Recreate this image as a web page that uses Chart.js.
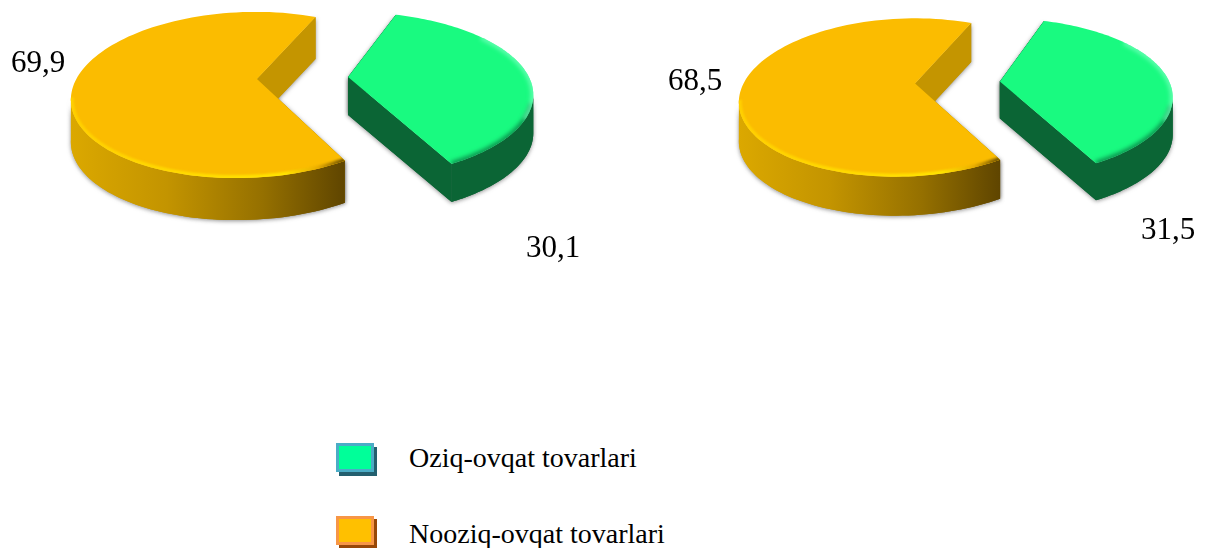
<!DOCTYPE html>
<html>
<head>
<meta charset="utf-8">
<script src="https://cdn.jsdelivr.net/npm/chart.js@4"></script>
<style>
  html, body { margin: 0; padding: 0; background: #fff; overflow: hidden; }
  body { width: 1207px; height: 548px; position: relative; font-family: "Liberation Serif", serif; color: #000; }
  canvas { position: absolute; top: 0; }
  #pieLeft { left: 0; }
  #pieRight { left: 704px; }
  .val { position: absolute; font-size: 31px; line-height: 34px; white-space: nowrap; }
  .swatch { position: absolute; left: 336px; width: 32px; height: 23px; border: 3px solid; }
  .name { position: absolute; left: 409px; font-size: 28px; line-height: 28px; white-space: nowrap; }
</style>
</head>
<body>
<canvas id="pieLeft" width="604" height="270"></canvas>
<canvas id="pieRight" width="503" height="270"></canvas>
<span class="val" id="lblLeft0" style="left:526px;top:230px"></span>
<span class="val" id="lblLeft1" style="left:11px;top:45px"></span>
<span class="val" id="lblRight0" style="left:1141px;top:212px"></span>
<span class="val" id="lblRight1" style="left:668px;top:63px"></span>
<div class="swatch" style="top:443px;background:#00FF99;border-color:#4BACC6;box-shadow:3px 4px 0 #235F6E"></div>
<div class="name" id="name0" style="top:444px"></div>
<div class="swatch" style="top:516px;background:#FFC000;border-color:#F79646;box-shadow:3px 3px 0 #984807"></div>
<div class="name" id="name1" style="top:520px"></div>
<script>
var categories = ["Oziq-ovqat tovarlari", "Nooziq-ovqat tovarlari"];
var valuesLeft = [30.1, 69.9];
var valuesRight = [31.5, 68.5];
var topColors = ["#19FA80", "#FBBC00"];

function fmt(v) { return v.toFixed(1).replace(".", ","); }

document.getElementById("lblLeft0").textContent = fmt(valuesLeft[0]);
document.getElementById("lblLeft1").textContent = fmt(valuesLeft[1]);
document.getElementById("lblRight0").textContent = fmt(valuesRight[0]);
document.getElementById("lblRight1").textContent = fmt(valuesRight[1]);
document.getElementById("name0").textContent = categories[0];
document.getElementById("name1").textContent = categories[1];

var DEG = Math.PI / 180;

// 3D look: the angles and centre come from the pie's arc elements
function stroked(ctx, pts, style, width, blur) {
  if (pts.length < 2) return;
  ctx.save();
  ctx.filter = "blur(" + blur + "px)";
  ctx.strokeStyle = style;
  ctx.lineWidth = width;
  ctx.beginPath();
  pts.forEach(function (p, i) { i ? ctx.lineTo(p[0], p[1]) : ctx.moveTo(p[0], p[1]); });
  ctx.stroke();
  ctx.restore();
}

function drawSlice(ctx, arc, index, v, firstMid) {
  var s = arc.startAngle, e = arc.endAngle, mid = (s + e) / 2;
  var rx = arc.outerRadius * v.sx[index], ry = arc.outerRadius * v.sy;
  var cx = arc.x + v.explode * Math.cos(mid) + v.nudgeX[index], cy = arc.y;
  var tip = [cx + v.tipX[index], cy + v.tipY[index]];
  var rim = [], n = 120;
  for (var i = 0; i <= n; i++) {
    var a = s + (e - s) * i / n;
    var phi = a + v.warp[index] * Math.sin(a - firstMid) + v.spin[index];
    var sn = Math.sin(phi);
    rim.push([cx + rx * Math.cos(phi) - v.lean[index] * sn, cy + ry * sn, sn]);
  }
  var d = v.depth[index];
  var first = rim[0], last = rim[n];
  var low = rim.filter(function (p) { return p[2] >= 0; });
  var xa = Math.min(low[0][0], low[low.length - 1][0]);
  var xb = Math.max(low[0][0], low[low.length - 1][0]);
  var grad = ctx.createLinearGradient(xa, 0, xb, 0);
  v.wall[index].forEach(function (st) { grad.addColorStop(st[0], st[1]); });

  function walls() {
    // flat walls along both cuts, the top face hides the one that faces away
    [first, last].forEach(function (p) {
      ctx.fillStyle = v.cutColor[index];
      ctx.beginPath();
      ctx.moveTo(p[0], p[1]);
      ctx.lineTo(tip[0], tip[1]);
      ctx.lineTo(tip[0], tip[1] + d);
      ctx.lineTo(p[0], p[1] + d);
      ctx.closePath();
      ctx.fill();
    });
    // outer wall
    ctx.fillStyle = grad;
    ctx.beginPath();
    low.forEach(function (p, i) { i ? ctx.lineTo(p[0], p[1]) : ctx.moveTo(p[0], p[1]); });
    for (var j = low.length - 1; j >= 0; j--) ctx.lineTo(low[j][0], low[j][1] + d);
    ctx.closePath();
    ctx.fill();
  }

  ctx.save();
  ctx.shadowColor = "rgba(50,50,50,0.55)";
  ctx.shadowBlur = 4;
  ctx.shadowOffsetY = 1;
  walls();
  ctx.restore();
  walls();

  // top face
  ctx.save();
  ctx.beginPath();
  ctx.moveTo(tip[0], tip[1]);
  rim.forEach(function (p) { ctx.lineTo(p[0], p[1]); });
  ctx.closePath();
  ctx.fillStyle = arc.options.backgroundColor;
  ctx.fill();
  ctx.clip();
  // soft edge of the bevel
  if (index === 0) {
    stroked(ctx, rim.filter(function (p) { return p[2] > 0.1; }), "rgba(0,70,40,0.6)", 5, 2);
    stroked(ctx, rim.filter(function (p) { return p[2] < 0.3 && p[2] > -0.7; }), "rgba(120,255,190,0.8)", 5, 2);
  } else {
    var g2 = ctx.createLinearGradient(xa, 0, xb, 0);
    g2.addColorStop(0, "#FFD000");
    g2.addColorStop(0.78, "#FFE400");
    g2.addColorStop(0.9, "#E8AC00");
    g2.addColorStop(1, "#6B4F00");
    stroked(ctx, low, g2, 6, 1);
  }
  ctx.restore();
}

var pie3d = {
  id: "pie3d",
  beforeDatasetsDraw: function (chart, args, opts) {
    var ctx = chart.ctx, arcs = chart.getDatasetMeta(0).data;
    var firstMid = (arcs[0].startAngle + arcs[0].endAngle) / 2;
    drawSlice(ctx, arcs[1], 1, opts, firstMid);
    drawSlice(ctx, arcs[0], 0, opts, firstMid);
    return false;
  }
};

var wallStops = [
  [[0, "#0B6535"], [1, "#0B6535"]],
  [[0, "#DBA800"], [0.35, "#C39400"], [0.7, "#957000"], [1, "#5F4500"]]
];
var cutStops = ["#0B6535", "#C49500"];

function makePie(id, values, rotation, padTop, padBottom, view) {
  view.wall = wallStops;
  view.cutColor = cutStops;
  return new Chart(document.getElementById(id), {
    type: "pie",
    data: {
      labels: categories,
      datasets: [{ data: values, backgroundColor: topColors, borderWidth: 0 }]
    },
    options: {
      responsive: false,
      animation: false,
      rotation: rotation,
      layout: { padding: { top: padTop, bottom: padBottom } },
      plugins: {
        legend: { display: false },
        tooltip: { enabled: false },
        pie3d: view
      }
    },
    plugins: [pie3d]
  });
}

makePie("pieLeft", valuesLeft, 26.3, 0, 80, {
  sx: [1.95, 1.84], sy: 0.875, explode: 46.7, nudgeX: [0, -10], lean: [0, 10],
  tipX: [0, 11], tipY: [-18, -16], depth: [38, 42], warp: [14 * DEG, 8.5 * DEG], spin: [0, 0.75 * DEG]
});
makePie("pieRight", valuesRight, 23.8, 7, 82, {
  sx: [1.91, 1.834], sy: 0.875, explode: 45, nudgeX: [0, -6], lean: [0, 10],
  tipX: [0, 10], tipY: [-16, -14], depth: [37, 39], warp: [10.8 * DEG, 5 * DEG], spin: [0, 0.35 * DEG]
});
</script>
</body>
</html>
